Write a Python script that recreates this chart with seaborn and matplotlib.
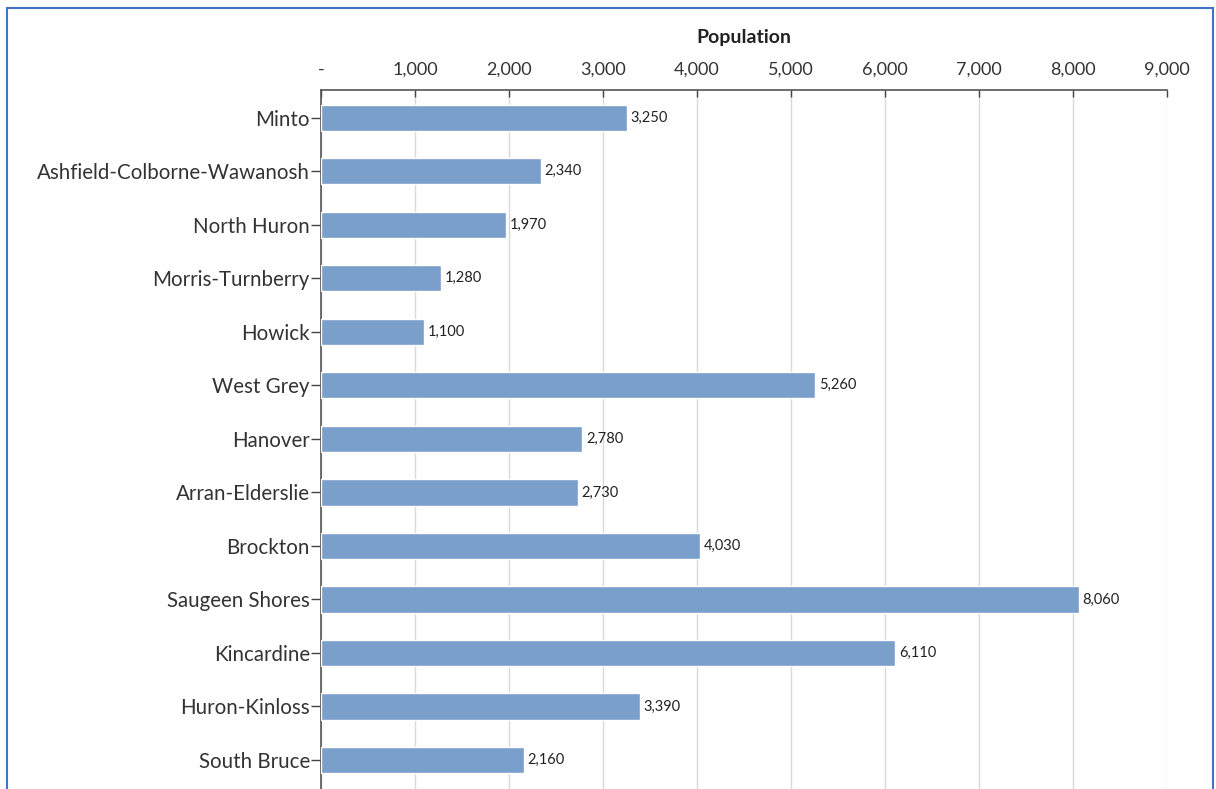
import matplotlib
matplotlib.use("Agg")
import matplotlib.pyplot as plt
import seaborn as sns
import pandas as pd
from matplotlib.patches import Rectangle
from matplotlib.ticker import FuncFormatter

municipalities = ["Minto", "Ashfield-Colborne-Wawanosh", "North Huron", "Morris-Turnberry",
                  "Howick", "West Grey", "Hanover", "Arran-Elderslie", "Brockton",
                  "Saugeen Shores", "Kincardine", "Huron-Kinloss", "South Bruce"]
population = [3250, 2340, 1970, 1280, 1100, 5260, 2780, 2730, 4030, 8060, 6110, 3390, 2160]
x_ticks = [0, 1000, 2000, 3000, 4000, 5000, 6000, 7000, 8000, 9000]

df = pd.DataFrame({"Municipality": municipalities, "Population": population})

sns.set_theme(style="white")
plt.rcParams['font.family'] = ['Lato', 'DejaVu Sans']

fig = plt.figure(figsize=(12.16, 7.89), dpi=100)
ax = fig.add_axes([321/1216, -0.01, (1167-321)/1216, 1 - 90/789 + 0.01])

sns.barplot(data=df, y="Municipality", x="Population", orient="h",
            color="#7A9FCB", saturation=1, width=0.49, ax=ax, zorder=3)

ax.set_xlim(0, 9000)
ax.set_ylim(12.5 + 0.19, -0.52)
ax.set_xticks(x_ticks)
ax.xaxis.set_major_formatter(FuncFormatter(lambda v, p: "-" if v == 0 else f"{int(v):,}"))
ax.xaxis.tick_top()
ax.xaxis.set_label_position("top")
ax.set_xlabel("Population", fontsize=14, fontweight="bold", color="#222222", labelpad=13)
ax.set_ylabel("")
ax.tick_params(axis="x", which="major", direction="in", length=5, width=1, color="#444444",
               labelsize=13, labelcolor="#333333", pad=9, top=True, bottom=False)
ax.tick_params(axis="y", which="major", direction="out", length=7, width=1, color="#444444",
               labelsize=14.8, labelcolor="#333333", pad=1, left=True)
ax.grid(axis="x", color="#D9D9D9", linewidth=1, zorder=0)
ax.set_axisbelow(True)
for s in ["right", "bottom"]:
    ax.spines[s].set_visible(False)
for s in ["top", "left"]:
    ax.spines[s].set_visible(True)
    ax.spines[s].set_color("#555555")
    ax.spines[s].set_linewidth(1.2)

for i, v in enumerate(population):
    ax.text(v + 40, i, f"{v:,}", va="center", ha="left", fontsize=10.5, color="#222222")

border = Rectangle((7/1216, -0.05), (1213-7)/1216, 1.05 - 8/789,
                   transform=fig.transFigure, fill=False, edgecolor="#4472C4",
                   linewidth=1.5, clip_on=False)
fig.patches.append(border)

fig.savefig("out.png", dpi=100)
